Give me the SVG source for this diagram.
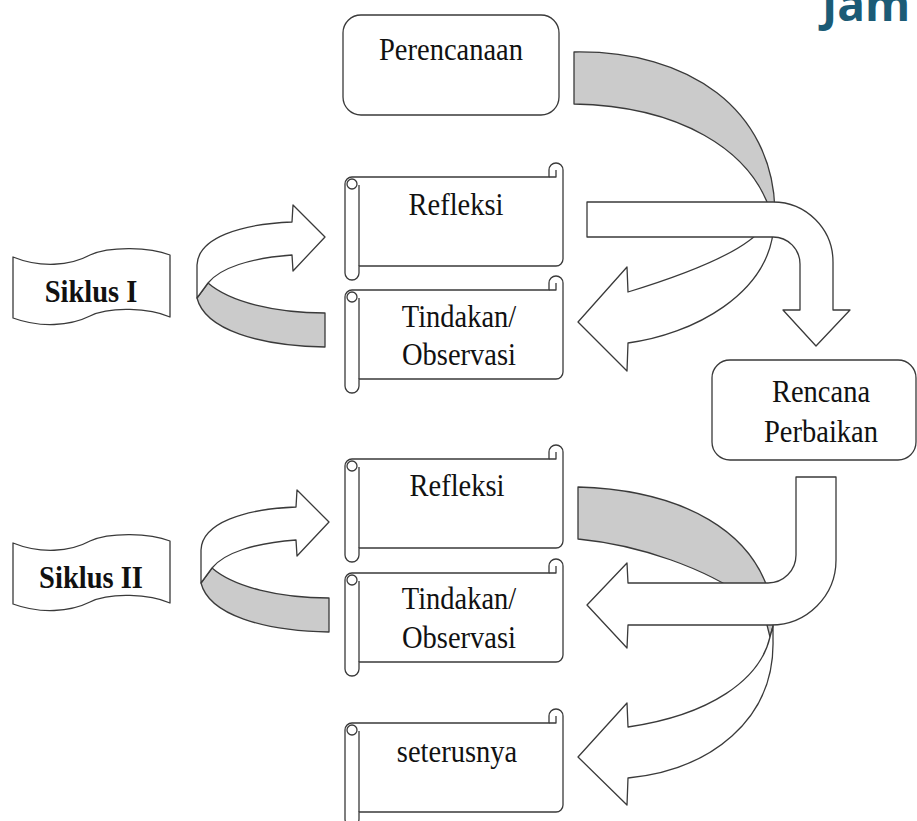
<svg xmlns="http://www.w3.org/2000/svg" width="917" height="821" viewBox="0 0 917 821">
<style>
.ln{stroke:#3a3a3a;stroke-width:1.3;stroke-linejoin:round}
.w{fill:#fff}
.g{fill:#cbcbcb}
.t{font-family:"Liberation Serif","Times New Roman",serif;font-size:28.5px;fill:#111;text-anchor:middle}
.b{font-weight:bold}
</style>
<defs>
<g id="scroll">
<path class="ln w" d="M7,14 L204,14 L204,7 A7,7 0 0 1 218,7 L218,96 A7,7 0 0 1 211,103 L14,103 L14,110 A7,7 0 0 1 0,110 L0,21 A7,7 0 0 1 7,14 Z"/>
<path class="ln" fill="none" d="M14,22 L14,103 M204,14 L211,14 L211,7"/>
<circle class="ln w" cx="7" cy="21" r="5"/>
</g>
<path id="banner" class="ln w" d="M13,257 C40,268 70,266 90,255 C110,246 150,247 170,255 L170,317 C150,308 110,306 90,316 C70,326 40,328 13,318 Z"/>
<g id="loop">
<path class="ln g" d="M208,283 C230,302 275,313 325,313 L325,347 C260,346 205,330 197,298 Z"/>
<path class="ln w" d="M197,298 L197,265 C198,238 240,224 292,222 L293,205 L325,237 L293,271 L292,255 C250,258 220,268 208,283 Z"/>
</g>
</defs>

<text x="822" y="21" font-family="'Open Sans','Liberation Sans',sans-serif" font-weight="bold" font-size="46" fill="#1b5b76">Jam</text>

<g id="connectors">
<path class="ln g" d="M574,52 C690,50 772,110 775,210 L770,210 C750,150 680,106 574,104 Z"/>
<path class="ln w" d="M628,343 C690,335 772,295 774,222 L768,218 C760,245 700,270 628,292 L627,267 L578,322 L627,371 Z"/>
<path class="ln w" d="M587,202 L773,202 A60,60 0 0 1 833,262 L833,310 L850,310 L816,346 L783,310 L800,310 L800,264 A27,27 0 0 0 773,237 L587,237 Z"/>
<path class="ln g" d="M578,487 C680,490 760,530 773,610 L773,626 L770,637 L767,625 L750,600 C705,568 640,545 578,539 Z"/>
<path class="ln w" d="M628,778 C710,770 775,720 773,640 L773,626 L770,637 C760,680 710,715 628,727 L627,703 L578,757 L627,805 Z"/>
<path class="ln w" d="M796,477 L836,477 L836,560 A65,65 0 0 1 771,625 L628,625 L627,648 L587,605 L627,563 L628,583 L768,583 A28,28 0 0 0 796,555 Z"/>
<use href="#loop"/>
<use href="#loop" transform="translate(4,285)"/>
</g>

<g id="perencanaan">
<rect class="ln w" x="343" y="15" width="216" height="100" rx="18"/>
<text class="t" transform="translate(451,60) scale(1,1.08)">Perencanaan</text>
</g>
<g id="refleksi1">
<use href="#scroll" transform="translate(345,163)"/>
<text class="t" transform="translate(456,215) scale(1,1.08)">Refleksi</text>
</g>
<g id="tindakan1">
<use href="#scroll" transform="translate(345,276)"/>
<text class="t" transform="translate(459,327) scale(1,1.08)">Tindakan/</text>
<text class="t" transform="translate(459,365) scale(1,1.08)">Observasi</text>
</g>
<g id="rencana">
<rect class="ln w" x="712" y="360" width="204" height="100" rx="18"/>
<text class="t" transform="translate(821,402) scale(1,1.08)">Rencana</text>
<text class="t" transform="translate(821,442) scale(1,1.08)">Perbaikan</text>
</g>
<g id="refleksi2">
<use href="#scroll" transform="translate(345,445)"/>
<text class="t" transform="translate(457,496) scale(1,1.08)">Refleksi</text>
</g>
<g id="tindakan2">
<use href="#scroll" transform="translate(345,559)"/>
<text class="t" transform="translate(459,609) scale(1,1.08)">Tindakan/</text>
<text class="t" transform="translate(459,648) scale(1,1.08)">Observasi</text>
</g>
<g id="seterusnya">
<use href="#scroll" transform="translate(345,709)"/>
<text class="t" transform="translate(457,762) scale(1,1.08)">seterusnya</text>
</g>
<g id="siklus1">
<use href="#banner"/>
<text class="t b" transform="translate(91,302) scale(1,1.08)">Siklus I</text>
</g>
<g id="siklus2">
<use href="#banner" transform="translate(0,286)"/>
<text class="t b" transform="translate(91,588) scale(1,1.08)">Siklus II</text>
</g>
</svg>
